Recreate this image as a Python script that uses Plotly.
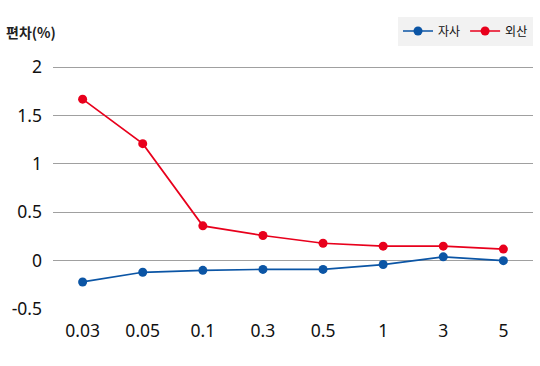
import plotly.graph_objects as go

categories = ["0.03", "0.05", "0.1", "0.3", "0.5", "1", "3", "5"]
own_values = [-0.22, -0.12, -0.10, -0.09, -0.09, -0.04, 0.04, 0.0]
foreign_values = [1.67, 1.21, 0.36, 0.26, 0.18, 0.15, 0.15, 0.12]
series_names = ["자사", "외산"]
y_ticks = [-0.5, 0, 0.5, 1, 1.5, 2]
y_title = "편차(%)"

BLUE = "#0b55a5"
RED = "#e8001c"
FONT = "Noto Sans CJK KR"
NUMFONT = "Noto Sans"

L, R, T, B = 53, 7, 66, 56
W, H = 540, 366
PW, PH = W - L - R, H - T - B

fig = go.Figure()
fig.add_trace(go.Scatter(
    x=categories, y=own_values, name=series_names[0], mode="lines+markers",
    line=dict(color=BLUE, width=1.7), marker=dict(color=BLUE, size=9),
))
fig.add_trace(go.Scatter(
    x=categories, y=foreign_values, name=series_names[1], mode="lines+markers",
    line=dict(color=RED, width=1.7), marker=dict(color=RED, size=9),
))

fig.update_layout(
    width=W, height=H,
    margin=dict(l=L, r=R, t=T, b=B, autoexpand=False),
    paper_bgcolor="white", plot_bgcolor="white",
    font=dict(family=FONT, color="#111111"),
    showlegend=True,
    legend=dict(
        orientation="h", x=(398 - L) / PW, xanchor="left",
        y=1 + (T - 31) / PH, yanchor="middle",
        bgcolor="#f2f2f2", font=dict(size=12, family=FONT, color="#111111"),
        itemwidth=30, tracegroupgap=0,
    ),
    annotations=[dict(
        text="<b>" + y_title + "</b>", x=(4 - L) / PW, y=1 + (T - 32) / PH,
        xref="paper", yref="paper",
        showarrow=False, xanchor="left", yanchor="middle",
        font=dict(size=14, family=FONT, color="#222222"),
    )],
)

fig.update_xaxes(
    type="category", showgrid=False, zeroline=False, showline=False,
    ticks="", tickfont=dict(size=17.5, family=NUMFONT, color="#111111"),
    ticklabelstandoff=8, automargin=False,
)
fig.update_yaxes(
    range=[-0.51, 2.013], tickvals=y_ticks, ticktext=[str(v) for v in y_ticks],
    showgrid=True, gridcolor="#a0a0a0", gridwidth=1,
    zeroline=False, showline=False, ticks="",
    tickfont=dict(size=17.5, family=NUMFONT, color="#111111"),
    ticklabelstandoff=10, automargin=False,
)

fig.write_html("out.html", config={"displayModeBar": False},
               post_script="document.body.style.margin='0';")
